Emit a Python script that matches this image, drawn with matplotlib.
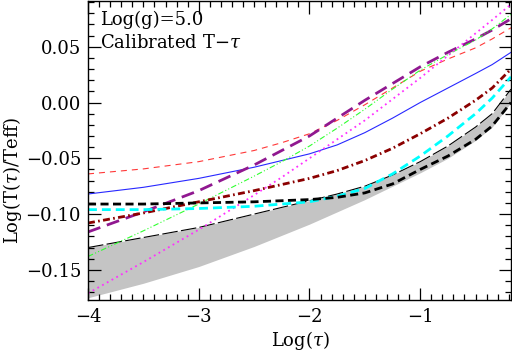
import numpy as np
import matplotlib
matplotlib.use('Agg')
import matplotlib.pyplot as plt
from matplotlib.ticker import MultipleLocator, FuncFormatter

plt.rcParams['font.family'] = 'DejaVu Serif'
plt.rcParams['mathtext.fontset'] = 'dejavuserif'

# log(tau) grid the curves were read at
logtau = [-4.0, -3.5, -3.0, -2.5, -2.25, -2.0, -1.75, -1.5, -1.25, -1.0, -0.75, -0.5, -0.35, -0.18]

# log(T/Teff) for each model
red_t = [-0.064, -0.0595, -0.053, -0.043, -0.036, -0.028, -0.016, -0.002, 0.013, 0.028, 0.039, 0.049, 0.057, 0.067]
blue_t = [-0.082, -0.076, -0.068, -0.058, -0.052, -0.046, -0.038, -0.027, -0.014, 0.000, 0.013, 0.026, 0.034, 0.045]
purple_t = [-0.116, -0.098, -0.079, -0.056, -0.043, -0.030, -0.014, 0.002, 0.017, 0.032, 0.045, 0.057, 0.065, 0.075]
green_t = [-0.138, -0.115, -0.091, -0.066, -0.053, -0.039, -0.023, -0.006, 0.012, 0.029, 0.043, 0.056, 0.066, 0.079]
magenta_t = [-0.171, -0.143, -0.114, -0.083, -0.067, -0.050, -0.033, -0.016, 0.003, 0.022, 0.042, 0.062, 0.074, 0.088]
maroon_t = [-0.108, -0.099, -0.089, -0.079, -0.0735, -0.068, -0.061, -0.052, -0.041, -0.028, -0.014, 0.002, 0.013, 0.030]
black_t = [-0.091, -0.091, -0.090, -0.089, -0.088, -0.087, -0.085, -0.081, -0.073, -0.060, -0.048, -0.033, -0.021, 0.000]
cyan_t = [-0.096, -0.096, -0.095, -0.093, -0.091, -0.089, -0.084, -0.077, -0.064, -0.048, -0.030, -0.010, 0.004, 0.023]

# calibrated band (grey)
band_hi = [-0.130, -0.121, -0.112, -0.100, -0.094, -0.088, -0.082, -0.075, -0.065, -0.053, -0.039, -0.022, -0.010, 0.012]
band_lo = [-0.175, -0.162, -0.147, -0.129, -0.119, -0.109, -0.098, -0.087, -0.075, -0.063, -0.050, -0.034, -0.022, 0.000]

fig = plt.figure(figsize=(5.12, 3.52), dpi=100)
ax = fig.add_axes([88/512, 52/352, 423/512, 299/352])

ax.fill_between(logtau, band_lo, band_hi, color='#c4c4c4', lw=0)
ax.plot(logtau, band_hi, color='black', lw=0.8, dashes=(14, 3))

ax.plot(logtau, red_t, color='#ff3838', lw=0.8, dashes=(5.4, 4.5))
ax.plot(logtau, blue_t, color='#2828ff', lw=0.8)
ax.plot(logtau, purple_t, color='#901890', lw=2.0, dashes=(4.7, 2.5))
ax.plot(logtau, green_t, color='#30ff30', lw=0.8, dashes=(5, 2, 1, 2, 1, 2))
ax.plot(logtau, magenta_t, color='#ff30ff', lw=1.3, dashes=(1, 2))
ax.plot(logtau, maroon_t, color='#8b0000', lw=2.0, dashes=(2.5, 1.2, 0.6, 1.2))
ax.plot(logtau, cyan_t, color='cyan', lw=2.0, dashes=(3.2, 1.8))
ax.plot(logtau, black_t, color='black', lw=2.0, dashes=(2.9, 1.6))

ax.set_xlim(-4, -0.18)
ax.set_ylim(-0.177, 0.091)

ax.xaxis.set_major_locator(MultipleLocator(1))
ax.xaxis.set_minor_locator(MultipleLocator(0.1))
ax.yaxis.set_major_locator(MultipleLocator(0.05))
ax.yaxis.set_minor_locator(MultipleLocator(0.01))
ax.xaxis.set_major_formatter(FuncFormatter(lambda v, p: ('%d' % round(v)).replace('-', '\u2212')))
ax.yaxis.set_major_formatter(FuncFormatter(
    lambda v, p: ('%.2f' % (0 if abs(v) < 1e-9 else v)).replace('-', '\u2212')))
ax.tick_params(which='both', direction='in', top=True, right=True, labelsize=13)
ax.tick_params(axis='x', pad=6)
ax.tick_params(axis='y', pad=5)
ax.tick_params(which='major', length=9, width=0.9)
ax.tick_params(which='minor', length=4.5, width=0.9)
for s in ax.spines.values():
    s.set_linewidth(1.0)

fig.text(100/512, 1 - 25/352, 'Log(g)=5.0', fontsize=13, va='baseline')
fig.text(100/512, 1 - 48/352, 'Calibrated T\u2212$\\tau$', fontsize=13, va='baseline')

fig.text(300/512, 1 - 341/352, 'Log($\\tau$)', fontsize=13, ha='center', va='center')
fig.text(13/512, 1 - 180/352, 'Log(T($\\tau$)/Teff)', fontsize=13, ha='center', va='center',
         rotation=90)

fig.savefig('out.png', dpi=100)
